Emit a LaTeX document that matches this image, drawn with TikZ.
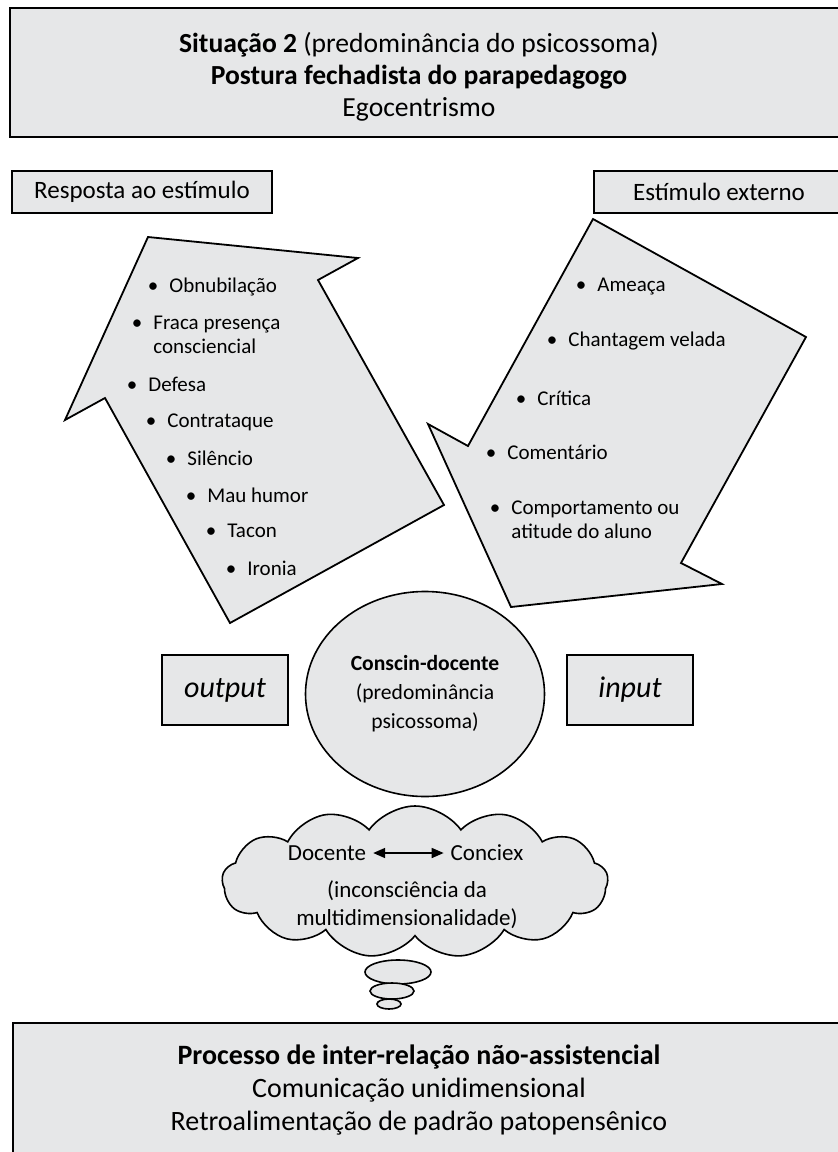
\documentclass[tikz,border=0pt]{standalone}
\usepackage{fontspec}
\setmainfont{Carlito}
\usetikzlibrary{shapes.geometric,shapes.symbols,arrows.meta}
\definecolor{boxgray}{HTML}{E6E7E8}

\begin{document}
\begin{tikzpicture}[x=0.5pt,y=-0.5pt,
	caixa/.style={draw, line width=1pt, fill=boxgray},
	seta/.style={draw, line width=0.9pt, fill=boxgray, line join=miter},
	item/.style={anchor=west, align=left, inner sep=0pt, font=\fontsize{10.5}{12}\selectfont},
	bolha/.style={draw, ellipse, line width=0.8pt, fill=boxgray, inner sep=0pt}]
	\useasboundingbox (0,0) rectangle (838,1152);

	% topo
	\draw[caixa] (10,8) rectangle (860,137);
	\node[align=center, font=\fontsize{13.8}{16}\selectfont] (titulo) at (419,77)
		{\textbf{Situação 2} (predominância do psicossoma)\\ \textbf{Postura fechadista do parapedagogo}\\ Egocentrismo};

	\node[caixa, minimum width=130pt, minimum height=21pt, font=\fontsize{12.5}{14}\selectfont] (resposta) at (142,192) {Resposta ao estímulo};
	\node[caixa, minimum width=135pt, minimum height=21pt, anchor=west, font=\fontsize{12.5}{14}\selectfont] (estimulo) at (593,192) {\hspace{-10pt}Estímulo externo};

	% setas
	\draw[seta] (148,237) -- (358,258) -- (318,280) -- (444,505) -- (230,623) -- (105,398) -- (65,420) -- cycle;
	\draw[seta] (593,219) -- (806,337) -- (681,563) -- (722,584) -- (511,607) -- (428,424) -- (468,446) -- cycle;

	\node[item] (obnub) at (169,287) {\llap{•\hspace{5.5pt}}Obnubilação};
	\node[item] (fraca) at (153,335) {\llap{•\hspace{5.5pt}}Fraca presença\\consciencial};
	\node[item] (defesa) at (148,384) {\llap{•\hspace{5.5pt}}Defesa};
	\node[item] (contra) at (167,422) {\llap{•\hspace{5.5pt}}Contrataque};
	\node[item] (silencio) at (187,458) {\llap{•\hspace{5.5pt}}Silêncio};
	\node[item] (humor) at (207,495) {\llap{•\hspace{5.5pt}}Mau humor};
	\node[item] (tacon) at (227,531) {\llap{•\hspace{5.5pt}}Tacon};
	\node[item] (ironia) at (247,568) {\llap{•\hspace{5.5pt}}Ironia};

	\node[item] (ameaca) at (597,287) {\llap{•\hspace{5.5pt}}Ameaça};
	\node[item] (chantagem) at (568,341) {\llap{•\hspace{5.5pt}}Chantagem velada};
	\node[item] (critica) at (537,398) {\llap{•\hspace{5.5pt}}Crítica};
	\node[item] (comentario) at (507,452) {\llap{•\hspace{5.5pt}}Comentário};
	\node[item] (comport) at (511,520) {\llap{•\hspace{5.5pt}}Comportamento ou\\atitude do aluno};

	% centro
	\node[caixa, minimum width=63pt, minimum height=35pt, font=\fontsize{15}{17}\selectfont\itshape] (output) at (225,690) {output};
	\node[caixa, minimum width=63pt, minimum height=35pt, font=\fontsize{15}{17}\selectfont\itshape] (input) at (630,690) {input};
	\node[bolha, minimum width=119.5pt, minimum height=102.5pt, align=center, font=\fontsize{10.8}{14.5}\selectfont] (conscin) at (425,694)
		{\textbf{Conscin-docente}\\(predominância\\psicossoma)};

	% pensamento
	\node[cloud, cloud puffs=13, cloud puff arc=110, aspect=2.6, draw, line width=0.8pt, fill=boxgray,
		minimum width=193pt, minimum height=76pt] (nuvem) at (415,882) {};
	\node[font=\fontsize{11.5}{14}\selectfont] (docente) at (327,853) {Docente};
	\node[font=\fontsize{11.5}{14}\selectfont] (conciex) at (487,853) {Conciex};
	\draw[{Triangle[length=6pt,width=5pt]}-{Triangle[length=6pt,width=5pt]}, line width=0.8pt] (docente) -- (conciex);
	\node[align=center, font=\fontsize{11.5}{14}\selectfont] (incons) at (407,905) {(inconsciência da\\multidimensionalidade)};

	\node[bolha, minimum width=33pt, minimum height=12pt] (bolha1) at (398,972) {};
	\node[bolha, minimum width=22pt, minimum height=8pt] (bolha2) at (392,991) {};
	\node[bolha, minimum width=12pt, minimum height=5pt] (bolha3) at (389,1004) {};

	% base
	\draw[caixa] (13,1023) rectangle (860,1170);
	\node[align=center, font=\fontsize{14}{16.5}\selectfont] (processo) at (419,1090)
		{\textbf{Processo de inter-relação não-assistencial}\\Comunicação unidimensional\\Retroalimentação de padrão patopensênico};
\end{tikzpicture}
\end{document}
